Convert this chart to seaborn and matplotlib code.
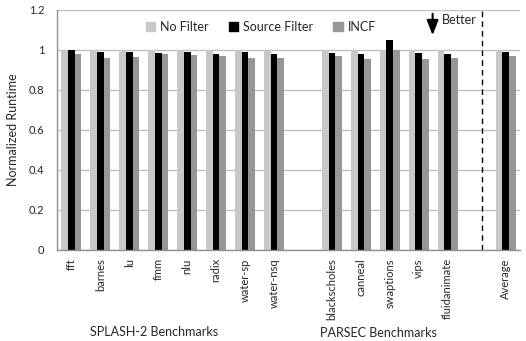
import matplotlib
matplotlib.use("Agg")
import matplotlib.pyplot as plt
import numpy as np
import pandas as pd
import seaborn as sns

# Benchmarks, with blank slots separating the groups
benchmarks = ["fft", "barnes", "lu", "fmm", "nlu", "radix", "water-sp", "water-nsq",
              "blackscholes", "canneal", "swaptions", "vips", "fluidanimate", "Average"]
order = ["fft", "barnes", "lu", "fmm", "nlu", "radix", "water-sp", "water-nsq", "gap1",
         "blackscholes", "canneal", "swaptions", "vips", "fluidanimate", "gap2", "Average"]
tick_labels = [b if not b.startswith("gap") else "" for b in order]

series = ["No Filter", "Source Filter", "INCF"]
no_filter = [1.0] * 14
source_filter = [0.998, 0.99, 0.99, 0.986, 0.99, 0.98, 0.99, 0.98,
                 0.985, 0.98, 1.05, 0.985, 0.98, 0.99]
incf = [0.98, 0.96, 0.966, 0.98, 0.975, 0.97, 0.96, 0.96,
        0.97, 0.955, 1.0, 0.955, 0.96, 0.97]

colors = ["#c8c8c8", "#000000", "#969696"]

df = pd.DataFrame({
    "bench": benchmarks * 3,
    "series": np.repeat(series, len(benchmarks)),
    "value": no_filter + source_filter + incf,
})

sns.set_style("white")
plt.rcParams["font.family"] = ["Lato", "DejaVu Sans"]

fig = plt.figure(figsize=(5.26, 3.41), dpi=100)
ax = fig.add_axes([57 / 526, 1 - 250 / 341, (520 - 57) / 526, 240 / 341])

sns.barplot(data=df, x="bench", y="value", hue="series", order=order,
            hue_order=series, palette=colors, width=0.69, saturation=1,
            errorbar=None, legend=False, ax=ax, linewidth=0)

ax.set_ylim(0, 1.2)
ax.set_xlim(-0.5, len(order) - 0.5)
ax.set_yticks(np.arange(0, 1.21, 0.2))
ax.set_yticklabels(["0", "0.2", "0.4", "0.6", "0.8", "1", "1.2"], fontsize=8)
ax.yaxis.grid(True, color="#c0c0c0", linewidth=1)
ax.set_axisbelow(True)

ax.set_xticks(range(len(order)))
ax.set_xticklabels(tick_labels, rotation=90, fontsize=8, va="top")
ax.tick_params(axis="x", length=0, pad=6)
ax.set_xticks(np.arange(-0.5, len(order), 1), minor=True)
ax.tick_params(axis="x", which="minor", direction="in", length=3, color="#909090", width=0.8)
ax.tick_params(axis="y", length=0, pad=9)

for side in ["top", "right"]:
    ax.spines[side].set_visible(False)
for side in ["left", "bottom"]:
    ax.spines[side].set_color("#909090")
    ax.spines[side].set_linewidth(1)

ax.set_xlabel("")
ax.set_ylabel("Normalized Runtime", fontsize=9, labelpad=7)

# Separator before the average
ax.axvline(14.17, color="black", linestyle=(0, (4, 3)), linewidth=1)

# "Better" arrow
ax.annotate("", xy=(12.48, 1.06), xytext=(12.48, 1.195),
            arrowprops=dict(arrowstyle="-|>,head_width=0.35,head_length=0.9",
                            color="black", linewidth=1.5))
ax.text(12.8, 1.15, "Better", fontsize=9, va="center", ha="left")

handles = [plt.Rectangle((0, 0), 1, 1, color=c) for c in colors]
ax.legend(handles, series, loc="center", bbox_to_anchor=(0.44, 0.929), ncol=3,
          frameon=False, fontsize=9, handlelength=0.75, handleheight=0.75,
          handletextpad=0.4, columnspacing=1.6)

fig.text(154 / 526, 1 - 332 / 341, "SPLASH-2 Benchmarks", ha="center", va="center", fontsize=9)
fig.text(378 / 526, 1 - 333 / 341, "PARSEC Benchmarks", ha="center", va="center", fontsize=9)

fig.savefig("out.png", dpi=100)
